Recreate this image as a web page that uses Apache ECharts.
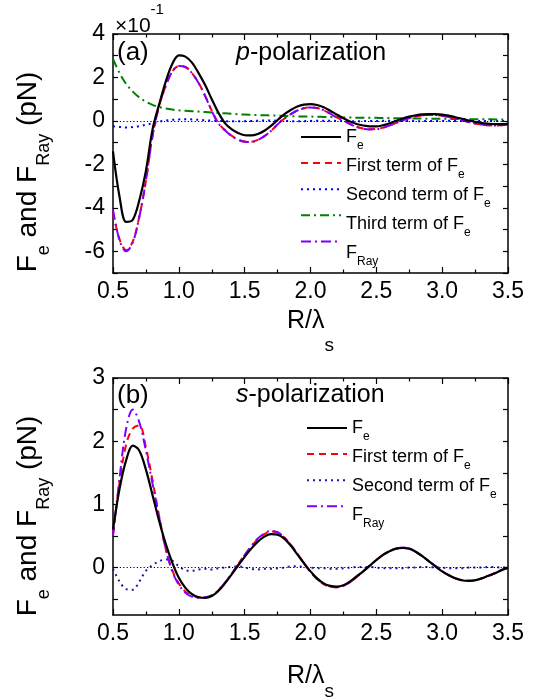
<!DOCTYPE html>
<html>
<head>
<meta charset="utf-8">
<script src="https://cdn.jsdelivr.net/npm/echarts@6/dist/echarts.min.js"></script>
<style>
html,body{margin:0;padding:0;background:#fff;}
#chart{width:545px;height:698px;}
</style>
</head>
<body>
<div id="chart"></div>
<script>
// ---------- data ----------
const xVals = [0.50,0.55,0.60,0.65,0.70,0.75,0.80,0.85,0.90,0.95,1.00,1.05,1.10,1.15,1.20,1.25,1.30,1.35,1.40,1.45,1.50,1.55,1.60,1.65,1.70,1.75,1.80,1.85,1.90,1.95,2.00,2.05,2.10,2.15,2.20,2.25,2.30,2.35,2.40,2.45,2.50,2.55,2.60,2.65,2.70,2.75,2.80,2.85,2.90,2.95,3.00,3.05,3.10,3.15,3.20,3.25,3.30,3.35,3.40,3.45,3.50];

// panel (a): p-polarization, units of 1e-1 pN
const pFe = [-1.4,-3.5,-4.65,-4.55,-3.65,-2.3,-0.4,0.75,1.8,2.62,3.02,2.96,2.68,2.2,1.65,1.0,0.38,-0.1,-0.38,-0.56,-0.66,-0.67,-0.6,-0.45,-0.23,0.04,0.3,0.5,0.66,0.75,0.77,0.73,0.63,0.47,0.29,0.12,-0.03,-0.14,-0.21,-0.25,-0.25,-0.2,-0.11,0.0,0.11,0.2,0.26,0.3,0.31,0.31,0.29,0.24,0.17,0.1,0.02,-0.05,-0.1,-0.13,-0.15,-0.15,-0.14];
const pFirst = [-4.2,-5.45,-5.95,-5.55,-4.4,-2.75,-0.7,0.68,1.6,2.27,2.52,2.48,2.2,1.75,1.15,0.47,-0.1,-0.42,-0.68,-0.86,-0.95,-0.96,-0.87,-0.7,-0.46,-0.16,0.1,0.31,0.48,0.58,0.62,0.59,0.49,0.33,0.16,0.02,-0.14,-0.27,-0.35,-0.38,-0.37,-0.31,-0.21,-0.09,0.03,0.13,0.21,0.26,0.28,0.27,0.24,0.18,0.11,0.03,-0.05,-0.12,-0.17,-0.2,-0.21,-0.2,-0.18];
const pSecond = [-0.25,-0.28,-0.3,-0.28,-0.24,-0.18,-0.11,-0.03,0.02,0.05,0.07,0.08,0.07,0.05,0.03,0.01,0.0,-0.01,-0.02,-0.02,-0.01,0.0,0.01,0.02,0.02,0.01,0.0,-0.01,-0.01,-0.01,0.0,0.01,0.01,0.01,0.0,0.0,-0.01,-0.01,-0.01,0.0,0.0,0.01,0.01,0.0,0.0,0.0,-0.01,-0.01,0.0,0.0,0.0,0.01,0.0,0.0,0.0,0.0,-0.01,0.0,0.0,0.0,0.0];
const pThird = [2.85,2.2,1.7,1.35,1.08,0.88,0.74,0.64,0.57,0.52,0.49,0.47,0.45,0.43,0.41,0.39,0.37,0.35,0.33,0.31,0.29,0.28,0.27,0.26,0.25,0.24,0.23,0.22,0.21,0.2,0.2,0.19,0.18,0.18,0.17,0.16,0.16,0.15,0.15,0.14,0.14,0.13,0.13,0.12,0.12,0.11,0.11,0.11,0.1,0.1,0.1,0.09,0.09,0.09,0.08,0.08,0.08,0.08,0.07,0.07,0.07];
const pRay = [-4.1,-5.5,-6.0,-5.6,-4.42,-2.75,-0.7,0.68,1.6,2.27,2.53,2.48,2.2,1.74,1.14,0.46,-0.11,-0.43,-0.69,-0.87,-0.96,-0.97,-0.88,-0.7,-0.46,-0.16,0.1,0.31,0.48,0.58,0.62,0.59,0.49,0.33,0.16,0.02,-0.15,-0.28,-0.36,-0.39,-0.38,-0.32,-0.21,-0.09,0.03,0.13,0.21,0.26,0.28,0.27,0.24,0.18,0.11,0.03,-0.05,-0.12,-0.17,-0.2,-0.21,-0.2,-0.18];

// panel (b): s-polarization, pN
const sFe = [0.6,1.25,1.7,1.93,1.85,1.55,1.15,0.74,0.38,0.08,-0.16,-0.32,-0.42,-0.47,-0.48,-0.45,-0.37,-0.25,-0.11,0.03,0.17,0.3,0.41,0.49,0.53,0.52,0.46,0.35,0.21,0.07,-0.06,-0.17,-0.25,-0.29,-0.3,-0.28,-0.22,-0.14,-0.06,0.03,0.12,0.2,0.26,0.3,0.31,0.3,0.25,0.18,0.1,0.02,-0.06,-0.12,-0.17,-0.2,-0.21,-0.2,-0.17,-0.13,-0.09,-0.04,0.0];
const sFirst = [0.52,1.35,1.95,2.2,2.25,1.9,1.38,0.82,0.3,-0.04,-0.25,-0.38,-0.44,-0.47,-0.47,-0.44,-0.36,-0.24,-0.1,0.05,0.2,0.33,0.45,0.53,0.57,0.55,0.48,0.36,0.22,0.07,-0.07,-0.18,-0.26,-0.3,-0.31,-0.29,-0.23,-0.15,-0.06,0.03,0.12,0.2,0.26,0.3,0.31,0.3,0.25,0.18,0.1,0.02,-0.06,-0.12,-0.17,-0.2,-0.21,-0.2,-0.17,-0.13,-0.09,-0.04,0.0];
const sSecond = [-0.02,-0.22,-0.34,-0.35,-0.22,-0.05,0.04,0.1,0.13,0.11,0.02,-0.04,-0.05,-0.03,-0.02,-0.03,-0.01,0.0,0.01,0.02,0.0,-0.02,-0.03,-0.02,-0.02,-0.01,0.0,0.02,0.02,0.01,0.0,-0.01,-0.01,-0.02,-0.02,-0.01,0.0,0.01,0.01,0.01,0.0,-0.01,-0.01,-0.01,-0.01,0.0,0.0,0.01,0.01,0.0,0.0,-0.01,-0.01,-0.01,0.0,0.0,0.0,0.01,0.01,0.0,0.0];
const sRay = [0.5,1.42,2.2,2.5,2.3,1.85,1.33,0.8,0.3,-0.06,-0.27,-0.4,-0.46,-0.48,-0.47,-0.44,-0.36,-0.24,-0.1,0.05,0.2,0.34,0.46,0.54,0.58,0.56,0.48,0.36,0.22,0.07,-0.07,-0.18,-0.26,-0.3,-0.31,-0.29,-0.23,-0.15,-0.06,0.03,0.12,0.2,0.26,0.3,0.32,0.3,0.25,0.18,0.1,0.02,-0.06,-0.12,-0.17,-0.2,-0.21,-0.2,-0.17,-0.13,-0.09,-0.04,0.0];

const yLabelsA = [-6,-4,-2,0,2,4];
const yLabelsB = [0,1,2,3];
const legendA = ['a_Fe','a_First','a_Second','a_Third','a_Ray'];
const legendB = ['b_Fe','b_First','b_Second','b_Ray'];
const legendLabels = {
  a_Fe: '{m|F}{s|e}',
  a_First: '{m|First term of F}{s|e}',
  a_Second: '{m|Second term of F}{s|e}',
  a_Third: '{m|Third term of F}{s|e}',
  a_Ray: '{m|F}{s|Ray}',
  b_Fe: '{m|F}{s|e}',
  b_First: '{m|First term of F}{s|e}',
  b_Second: '{m|Second term of F}{s|e}',
  b_Ray: '{m|F}{s|Ray}'
};

// ---------- helpers ----------
const FONT = '"Liberation Sans", Arial, Helvetica, sans-serif';
const pair = (ys) => xVals.map((x, i) => [x, ys[i]]);

function xAxes(gi) {
  const base = {
    type: 'value', gridIndex: gi, min: 0.5, max: 3.5, interval: 0.5,
    axisLine: {show: true, onZero: false, lineStyle: {color: '#000', width: 1.5}},
    axisTick: {show: true, inside: true, length: 6, lineStyle: {color: '#000', width: 1.2}},
    minorTick: {show: true, splitNumber: 2, length: 3.5, lineStyle: {color: '#000', width: 1.2}},
    splitLine: {show: false}
  };
  return [
    Object.assign({}, base, {
      position: 'bottom',
      axisLabel: {show: true, fontSize: 23, color: '#000', fontFamily: FONT, margin: 7,
        formatter: (v) => v.toFixed(1)}
    }),
    Object.assign({}, base, {position: 'top', axisLabel: {show: false}})
  ];
}

function yAxes(gi, min, max, labels, ticks) {
  const base = {
    type: 'value', gridIndex: gi, min: min, max: max,
    axisLine: {show: true, onZero: false, lineStyle: {color: '#000', width: 1.5}},
    axisTick: {show: true, inside: true, length: 5, customValues: ticks, lineStyle: {color: '#000', width: 1.2}},
    splitLine: {show: false}
  };
  return [
    Object.assign({}, base, {
      position: 'left',
      axisLabel: {show: true, customValues: labels, fontSize: 23, color: '#000', fontFamily: FONT, margin: 8}
    }),
    Object.assign({}, base, {position: 'right', axisLabel: {show: false}})
  ];
}

function line(name, data, xi, yi, color, type, width, z) {
  return {
    name: name, type: 'line', data: pair(data), xAxisIndex: xi, yAxisIndex: yi,
    symbol: 'none', smooth: 0.35, clip: true, z: z || 2,
    lineStyle: {color: color, type: type, width: width},
    itemStyle: {color: color},
    emphasis: {disabled: true}
  };
}

const zeroMark = {
  silent: true, symbol: 'none', label: {show: false},
  lineStyle: {color: '#000', type: [1.2, 2.2], width: 1},
  emphasis: {disabled: true},
  data: [{yAxis: 0}]
};

const sA2 = line('a_Second', pSecond, 0, 0, '#0000ff', [2, 4], 2, 1);
sA2.markLine = zeroMark;
const sB2 = line('b_Second', sSecond, 2, 2, '#1a1a9a', [2, 4], 2, 1);
sB2.markLine = zeroMark;

const series = [
  sA2,
  line('a_Third', pThird, 0, 0, '#008000', [9, 4, 2, 4], 2, 2),
  line('a_First', pFirst, 0, 0, '#ff0000', [7, 5], 2, 3),
  line('a_Ray', pRay, 0, 0, '#7f00ff', [10, 4, 2, 4], 2, 4),
  line('a_Fe', pFe, 0, 0, '#000000', 'solid', 2.2, 5),
  sB2,
  line('b_First', sFirst, 2, 2, '#ff0000', [7, 5], 2, 3),
  line('b_Ray', sRay, 2, 2, '#7f00ff', [10, 4, 2, 4], 2, 4),
  line('b_Fe', sFe, 2, 2, '#000000', 'solid', 2.2, 5)
];

const ROW = 29;
function legend(names, left, top) {
  return {
    show: true, orient: 'vertical', left: left, top: top, padding: 0, itemGap: 0,
    itemWidth: 40, itemHeight: ROW, selectedMode: false,
    data: names,
    itemStyle: {opacity: 0},
    formatter: () => '',
    textStyle: {fontFamily: FONT, fontSize: 18, color: '#000'}
  };
}

const txtMain = (size) => ({fontSize: size, fontFamily: FONT, fill: '#000'});

const legRich = {
  m: {fontSize: 18, lineHeight: 30, fontFamily: FONT, fill: '#000', verticalAlign: 'middle'},
  s: {fontSize: 12, lineHeight: 12, fontFamily: FONT, fill: '#000', verticalAlign: 'bottom'}
};
const yNameRich = {
  m: {fontSize: 28, lineHeight: 49, fontFamily: FONT, fill: '#000', verticalAlign: 'middle'},
  s: {fontSize: 18, lineHeight: 18, fontFamily: FONT, fill: '#000', verticalAlign: 'bottom'}
};
const xNameRichA = {
  m: {fontSize: 25, lineHeight: 68, fontFamily: FONT, fill: '#000', verticalAlign: 'middle'},
  s: {fontSize: 19, lineHeight: 19, fontFamily: FONT, fill: '#000', verticalAlign: 'bottom'}
};
const xNameRichB = {
  m: {fontSize: 25, lineHeight: 50, fontFamily: FONT, fill: '#000', verticalAlign: 'middle'},
  s: {fontSize: 19, lineHeight: 19, fontFamily: FONT, fill: '#000', verticalAlign: 'bottom'}
};
const expRich = {
  m: {fontSize: 21, lineHeight: 48, fontFamily: FONT, fill: '#000', verticalAlign: 'middle'},
  u: {fontSize: 15, lineHeight: 15, fontFamily: FONT, fill: '#000', verticalAlign: 'top'}
};
const titleRich = {
  i: {fontSize: 25, fontFamily: FONT, fontStyle: 'italic', fill: '#000'},
  m: {fontSize: 25, fontFamily: FONT, fill: '#000'}
};

const LEG_A = {left: 300, firstRow: 137};
const LEG_B = {left: 306, firstRow: 428};

function legendTexts(names, cfg) {
  return names.map((n, i) => ({
    type: 'text', x: cfg.left + 46, y: cfg.firstRow + i * ROW - 15, silent: true,
    style: {text: legendLabels[n], rich: legRich, align: 'left', verticalAlign: 'top'}
  }));
}

const graphic = [
  {type: 'text', x: 115, y: 2, silent: true, style: {text: '{m|×10}{u|-1}', rich: expRich, align: 'left', verticalAlign: 'top'}},
  {type: 'text', x: 117, y: 53, silent: true, style: Object.assign(txtMain(26), {text: '(a)', verticalAlign: 'middle'})},
  {type: 'text', x: 236, y: 53, silent: true, style: {text: '{i|p}{m|-polarization}', rich: titleRich, verticalAlign: 'middle'}},
  {type: 'text', x: 117, y: 396, silent: true, style: Object.assign(txtMain(26), {text: '(b)', verticalAlign: 'middle'})},
  {type: 'text', x: 236, y: 395, silent: true, style: {text: '{i|s}{m|-polarization}', rich: titleRich, verticalAlign: 'middle'}},
  {type: 'text', x: 4, y: 172, rotation: Math.PI / 2, silent: true, style: {text: '{m|F}{s|e}{m| and F}{s|Ray}{m| (pN)}', rich: yNameRich, align: 'center', verticalAlign: 'top'}},
  {type: 'text', x: 4, y: 516, rotation: Math.PI / 2, silent: true, style: {text: '{m|F}{s|e}{m| and F}{s|Ray}{m| (pN)}', rich: yNameRich, align: 'center', verticalAlign: 'top'}},
  {type: 'text', x: 310.5, y: 287, silent: true, style: {text: '{m|R/λ}{s|s}', rich: xNameRichA, align: 'center', verticalAlign: 'top'}},
  {type: 'text', x: 310.5, y: 651, silent: true, style: {text: '{m|R/λ}{s|s}', rich: xNameRichB, align: 'center', verticalAlign: 'top'}}
].concat(legendTexts(legendA, LEG_A), legendTexts(legendB, LEG_B));

const option = {
  animation: false,
  backgroundColor: '#fff',
  grid: [
    {left: 113, top: 34, width: 395, height: 239},
    {left: 113, top: 378, width: 395, height: 237}
  ],
  xAxis: [].concat(xAxes(0), xAxes(1)),
  yAxis: [].concat(
    yAxes(0, -7, 4, yLabelsA, [-7,-6,-5,-4,-3,-2,-1,0,1,2,3,4]),
    yAxes(1, -0.75, 3, yLabelsB, [-0.5,0,0.5,1,1.5,2,2.5,3])
  ),
  legend: [
    legend(legendA, LEG_A.left, LEG_A.firstRow - ROW / 2),
    legend(legendB, LEG_B.left, LEG_B.firstRow - ROW / 2)
  ],
  graphic: graphic,
  series: series
};

const chart = echarts.init(document.getElementById('chart'), null, {renderer: 'canvas'});
chart.setOption(option);
</script>
</body>
</html>
